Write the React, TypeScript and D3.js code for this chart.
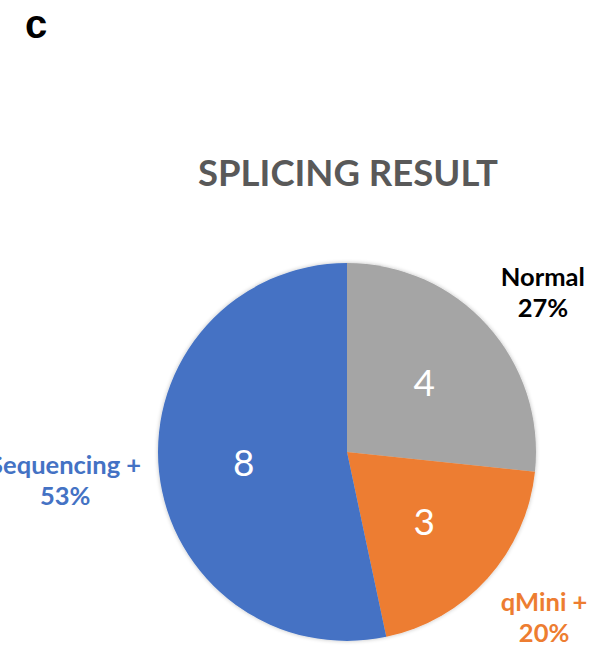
import React, { useEffect, useRef } from "react";
import * as d3 from "d3";

const categories = ["Normal", "qMini +", "Sequencing +"];
const counts = [4, 3, 8];
const colors = ["#A5A5A5", "#ED7D31", "#4472C4"];
const labelColors = ["#000000", "#ED7D31", "#4472C4"];

const width = 602;
const height = 657;
const cx = 347;
const cy = 452;
const radius = 189;

const App = () => {
  const ref = useRef<SVGSVGElement | null>(null);

  useEffect(() => {
    const svg = d3.select(ref.current);
    svg.selectAll("*").remove();

    svg
      .append("text")
      .attr("x", 25)
      .attr("y", 38)
      .attr("font-family", "Liberation Sans, Arial, sans-serif")
      .attr("font-weight", "bold")
      .attr("font-size", 40)
      .attr("fill", "#000")
      .text("c");

    svg
      .append("text")
      .attr("x", cx + 1)
      .attr("y", 186)
      .attr("text-anchor", "middle")
      .attr("font-family", "Lato, sans-serif")
      .attr("font-weight", "bold")
      .attr("font-size", 36.5)
      .attr("fill", "#595959")
      .text("SPLICING RESULT");

    const total = d3.sum(counts);
    const pie = d3
      .pie<number>()
      .sort(null)
      .value(d => d);
    const arcs = pie(counts);

    const arc = d3.arc<d3.PieArcDatum<number>>().innerRadius(0).outerRadius(radius);
    const inner = d3
      .arc<d3.PieArcDatum<number>>()
      .innerRadius(radius * 0.55)
      .outerRadius(radius * 0.55);

    const defs = svg.append("defs");
    const f = defs.append("filter").attr("id", "shadow").attr("x", "-10%").attr("y", "-10%").attr("width", "120%").attr("height", "120%");
    f.append("feGaussianBlur").attr("in", "SourceAlpha").attr("stdDeviation", 2);
    f.append("feOffset").attr("dx", 0).attr("dy", 0).attr("result", "b");
    f.append("feComponentTransfer").append("feFuncA").attr("type", "linear").attr("slope", 0.25);
    const m = f.append("feMerge");
    m.append("feMergeNode");
    m.append("feMergeNode").attr("in", "SourceGraphic");

    const g = svg.append("g").attr("transform", "translate(" + cx + "," + cy + ")");

    g.append("g")
      .attr("filter", "url(#shadow)")
      .selectAll("path")
      .data(arcs)
      .enter()
      .append("path")
      .attr("d", d => arc(d))
      .attr("fill", (d, i) => colors[i]);

    g.selectAll("text.value")
      .data(arcs)
      .enter()
      .append("text")
      .attr("class", "value")
      .attr("x", d => inner.centroid(d)[0])
      .attr("y", d => inner.centroid(d)[1])
      .attr("dy", "0.36em")
      .attr("text-anchor", "middle")
      .attr("font-family", "Lato, 'Open Sans', sans-serif")
      .attr("font-weight", 400)
      .attr("font-size", 37)
      .attr("fill", "#fff")
      .text(d => d.data);

    // outside category labels: anchor point just off the rim, box pushed outwards
    const lineH = 31;
    const fs = 25.5;
    const gap = 18;
    arcs.forEach((d, i) => {
      const a = (d.startAngle + d.endAngle) / 2;
      const pct = d3.format(".0%")(d.data / total);
      const t = g
        .append("text")
        .attr("text-anchor", "middle")
        .attr("font-family", "Lato, sans-serif")
        .attr("font-weight", "bold")
        .attr("font-size", fs)
        .attr("fill", labelColors[i]);
      t.append("tspan").attr("x", 0).attr("dy", 0).text(categories[i]);
      t.append("tspan").attr("x", 0).attr("dy", lineH).text(pct);
      const w = (t.node() as SVGTextElement).getBBox().width;
      const h = lineH + 0.92 * fs;
      const px = Math.sin(a) * (radius + gap);
      const py = -Math.cos(a) * (radius + gap);
      const bx = px + Math.sign(Math.sin(a)) * w / 2;
      const ky = Math.max(-1, Math.min(1, -Math.cos(a) * 1.3));
      const by = py + ky * h / 2 + 0.1 * h;
      const base1 = by - (lineH - 0.52 * fs) / 2;
      t.attr("transform", "translate(" + bx + "," + base1 + ")");
    });
  }, []);

  return (
    <div style={{ width: width, height: height }}>
      <svg ref={ref} width={width} height={height} style={{ position: "absolute", left: 0, top: 0, background: "#fff" }}></svg>
    </div>
  );
};

export default App;
